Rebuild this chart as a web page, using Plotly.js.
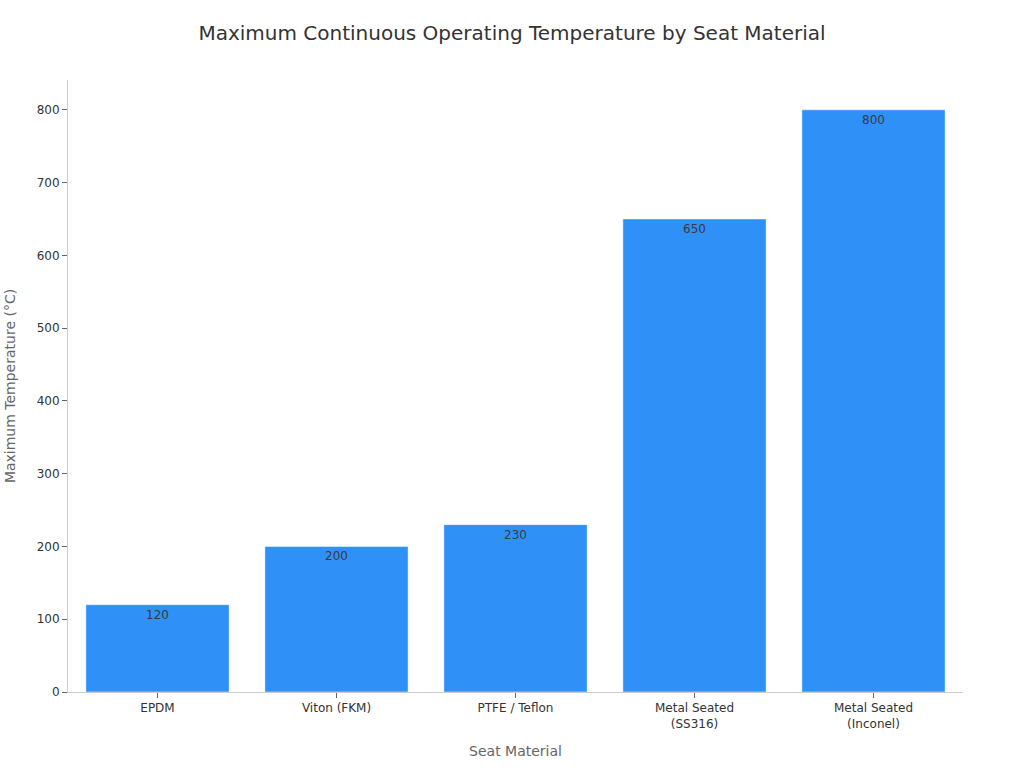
<!DOCTYPE html>
<html>
<head>
<meta charset="utf-8">
<script src="https://cdn.plot.ly/plotly-3.0.1.min.js"></script>
<style>
  html, body { margin: 0; padding: 0; background: #ffffff; }
  #chart { width: 1024px; height: 768px; }
</style>
</head>
<body>
<div id="chart"></div>
<script>
// Seat materials and their max continuous temperature (°C)
const materials = ['EPDM', 'Viton (FKM)', 'PTFE / Teflon', 'Metal Seated<br>(SS316)', 'Metal Seated<br>(Inconel)'];
const maxTemps = [120, 200, 230, 650, 800];
const yTicks = [0, 100, 200, 300, 400, 500, 600, 700, 800];

const fontFamily = '"DejaVu Sans", Verdana, sans-serif';

const trace = {
    type: 'bar',
    x: materials,
    y: maxTemps,
    text: maxTemps.map(String),
    textposition: 'inside',
    insidetextanchor: 'end',
    textangle: 0,
    textfont: { family: fontFamily, size: 12, color: '#3a3a3a' },
    marker: {
        color: '#2F91F7',
        line: { color: 'rgba(255,255,255,0.45)', width: 1 }
    },
    hoverinfo: 'x+y'
};

const layout = {
    width: 1024,
    height: 768,
    title: {
        text: 'Maximum Continuous Operating Temperature by Seat Material',
        font: { family: fontFamily, size: 20, color: '#333333' },
        x: 0.5,
        xanchor: 'center',
        y: 0.957,
        yanchor: 'middle'
    },
    font: { family: fontFamily, size: 12, color: '#333333' },
    bargap: 0.2,
    xaxis: {
        title: { text: 'Seat Material', font: { size: 14, color: '#666666' }, standoff: 16 },
        showline: true,
        linecolor: '#cccccc',
        linewidth: 1,
        ticks: 'outside',
        ticklen: 5,
        tickcolor: '#666666',
        tickfont: { size: 12, color: '#333333' },
        showgrid: false
    },
    yaxis: {
        title: { text: 'Maximum Temperature (°C)', font: { size: 14, color: '#666666' }, standoff: 17 },
        range: [0, 841],
        tickvals: yTicks,
        showline: true,
        linecolor: '#cccccc',
        linewidth: 1,
        ticks: 'outside',
        ticklen: 5,
        tickcolor: '#666666',
        tickfont: { size: 12, color: '#333333' },
        showgrid: false,
        zeroline: false
    },
    margin: { l: 68, r: 61, t: 80, b: 76 },
    plot_bgcolor: '#ffffff',
    paper_bgcolor: '#ffffff',
    showlegend: false
};

Plotly.newPlot('chart', [trace], layout, { displayModeBar: false, responsive: false });
</script>
</body>
</html>
